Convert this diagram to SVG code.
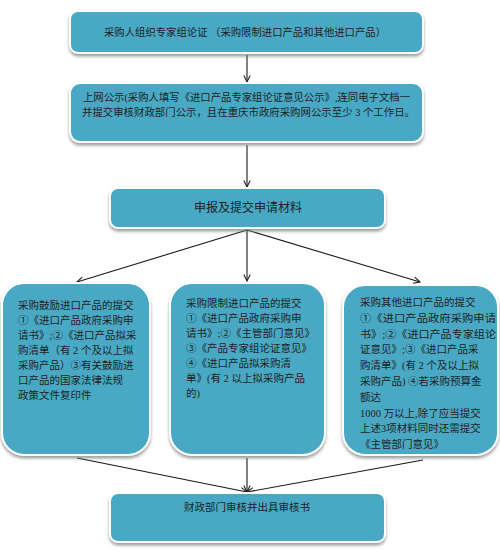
<svg xmlns="http://www.w3.org/2000/svg" width="500" height="554" viewBox="0 0 500 554">
<style>
.box{fill:#4aa9c5;stroke:#ffffff;stroke-width:2;filter:url(#sh)}
.t{font-family:"Liberation Serif","Noto Sans CJK SC",serif;font-size:10.5px;fill:#1e1e1e}
.c{text-anchor:middle}
.ln{stroke:#1a1a1a;stroke-width:1.1;fill:none;marker-end:url(#ah)}
</style>
<defs>
<filter id="sh" x="-10%" y="-10%" width="120%" height="130%">
<feDropShadow dx="0" dy="2.5" stdDeviation="1.5" flood-color="#777" flood-opacity="0.7"/>
</filter>
<marker id="ah" viewBox="0 0 10 10" refX="9" refY="5" markerWidth="8" markerHeight="8" orient="auto" markerUnits="userSpaceOnUse">
<polyline points="1,1 9,5 1,9" fill="none" stroke="#1a1a1a" stroke-width="1.3"/>
</marker>
</defs>
<rect width="500" height="554" fill="#ffffff"/>
<g id="connectors">
<line class="ln" x1="247" y1="55" x2="247" y2="82"/>
<line class="ln" x1="247" y1="145" x2="247" y2="187"/>
<line class="ln" x1="247" y1="230" x2="77" y2="282"/>
<line class="ln" x1="247" y1="230" x2="247" y2="281"/>
<line class="ln" x1="247" y1="230" x2="420" y2="282"/>
<line class="ln" x1="77" y1="458" x2="247" y2="492"/>
<line class="ln" x1="247" y1="458" x2="247" y2="492"/>
<line class="ln" x1="423" y1="460" x2="247" y2="492"/>
</g>
<g id="n1">
<rect class="box" x="70" y="11" width="353" height="42" rx="8"/>
<text class="t c" x="245" y="36" textLength="282" lengthAdjust="spacingAndGlyphs">采购人组织专家组论证 （采购限制进口产品和其他进口产品）</text>
</g>
<g id="n2">
<rect class="box" x="70" y="83" width="353" height="59" rx="10"/>
<text class="t" x="83" y="101" textLength="327" lengthAdjust="spacingAndGlyphs">上网公示(采购人填写《进口产品专家组论证意见公示》,连同电子文档一</text>
<text class="t" x="82" y="116" textLength="333" lengthAdjust="spacingAndGlyphs">并提交审核财政部门公示，且在重庆市政府采购网公示至少 3 个工作日。</text>
</g>
<g id="n3">
<rect class="box" x="110" y="188" width="275" height="40" rx="8"/>
<text class="t c" x="248" y="212" style="font-size:12px">申报及提交申请材料</text>
</g>
<g id="n4">
<rect class="box" x="2" y="283" width="148" height="172" rx="22"/>
<text class="t" x="18" y="309">采购鼓励进口产品的提交</text>
<text class="t" x="18" y="324">①《进口产品政府采购申</text>
<text class="t" x="18" y="339">请书》;②《进口产品拟采</text>
<text class="t" x="18" y="354">购清单（有 2 个及以上拟</text>
<text class="t" x="18" y="369">采购产品）③有关鼓励进</text>
<text class="t" x="18" y="384">口产品的国家法律法规</text>
<text class="t" x="18" y="399">政策文件复印件</text>
</g>
<g id="n5">
<rect class="box" x="170" y="283" width="155" height="172" rx="22"/>
<text class="t" x="186" y="307">采购限制进口产品的提交</text>
<text class="t" x="186" y="322">①《进口产品政府采购申</text>
<text class="t" x="186" y="337">请书》;②《主管部门意见》</text>
<text class="t" x="186" y="352">③《产品专家组论证意见》</text>
<text class="t" x="186" y="367">④《进口产品拟采购清</text>
<text class="t" x="186" y="382">单》(有 2 以上拟采购产品</text>
<text class="t" x="186" y="397">的)</text>
</g>
<g id="n6">
<rect class="box" x="343" y="285" width="155" height="170" rx="22"/>
<text class="t" x="360" y="306">采购其他进口产品的提交</text>
<text class="t" x="360" y="321.8" textLength="136" lengthAdjust="spacingAndGlyphs">①《进口产品政府采购申请</text>
<text class="t" x="360" y="337.6" textLength="136" lengthAdjust="spacingAndGlyphs">书》;②《进口产品专家组论</text>
<text class="t" x="360" y="353.4">证意见》;③《进口产品采</text>
<text class="t" x="360" y="369.2">购清单》(有 2 个及以上拟</text>
<text class="t" x="360" y="385">采购产品) ④若采购预算金</text>
<text class="t" x="360" y="400.8">额达</text>
<text class="t" x="360" y="416.6">1000 万以上,除了应当提交</text>
<text class="t" x="360" y="432.4">上述3项材料同时还需提交</text>
<text class="t" x="360" y="448.2">《主管部门意见》</text>
</g>
<g id="n7">
<rect class="box" x="110" y="493" width="275" height="49" rx="8"/>
<text class="t c" x="247" y="511">财政部门审核并出具审核书</text>
</g>
</svg>
